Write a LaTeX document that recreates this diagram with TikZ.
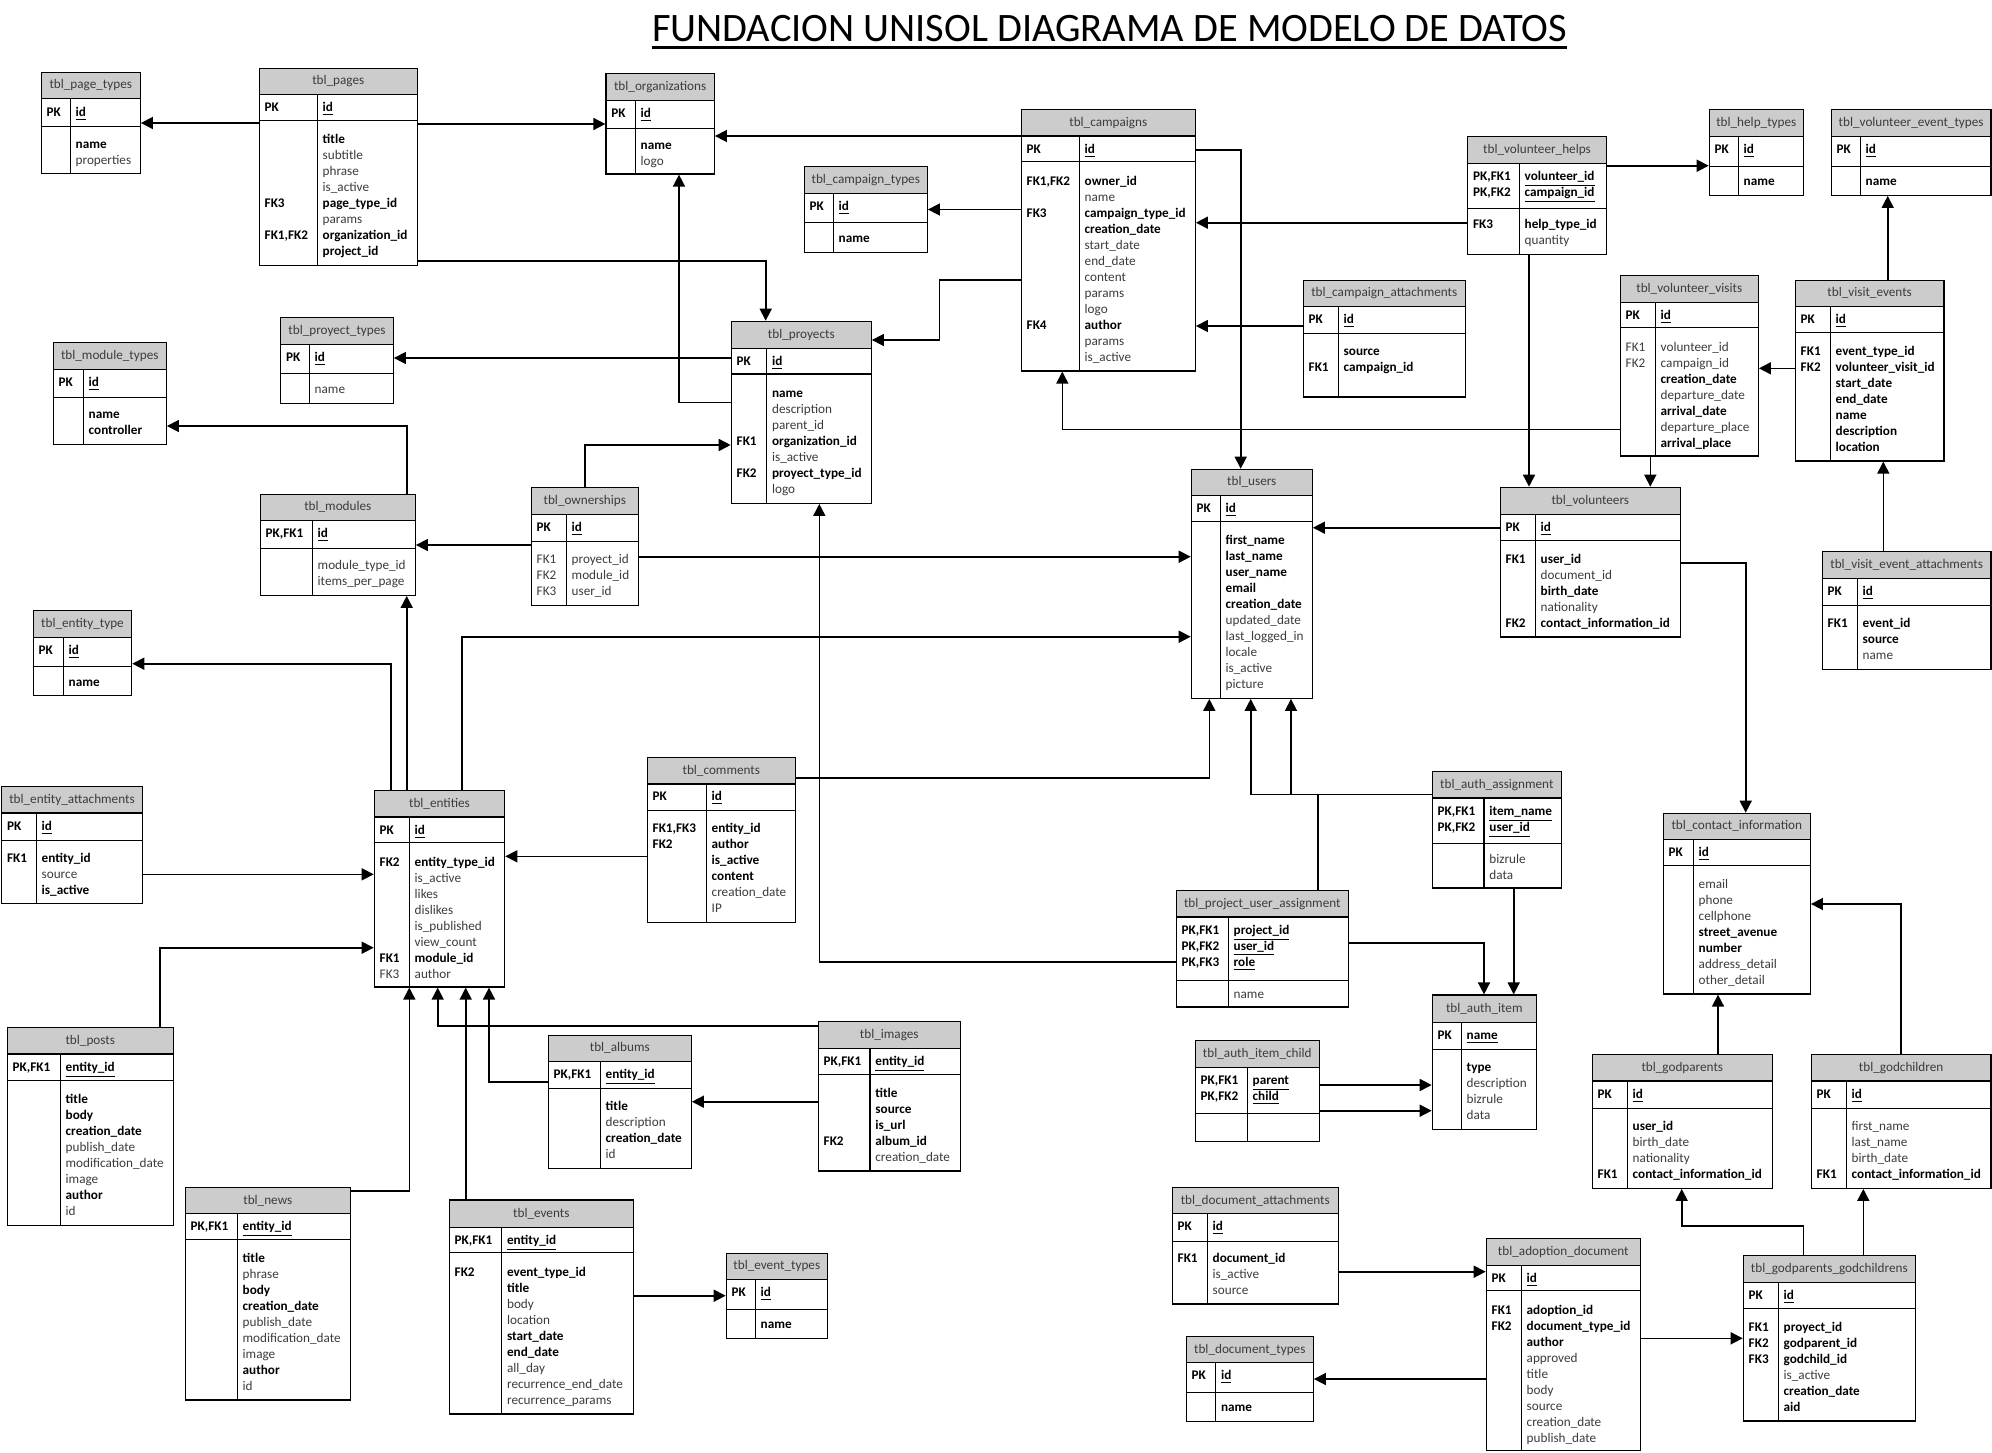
\documentclass[tikz,border=0pt]{standalone}
\usepackage{fontspec}
\setmainfont{Carlito}
\usetikzlibrary{arrows.meta,fit}
\definecolor{hdrgray}{RGB}{204,204,204}
\definecolor{txtgray}{RGB}{60,60,60}
\newcommand\cellfont{\fontsize{6.6}{8}\selectfont}
\tikzset{
 tline/.style={line width=0.6pt},
 conn/.style={line width=0.8pt,-{Triangle[length=6pt,width=6pt]}},
 cell/.style={inner sep=0pt,anchor=base west},
 ttl/.style={inner sep=0pt,anchor=base,font=\cellfont,text=txtgray},
}
% #1 name #2 L #3 T #4 R #5 B #6 header bottom #7 pk bottom #8 divider #9 title
\newcommand\tbl[9]{%
 \fill[hdrgray] (#2,#3) rectangle (#4,#6);
 \draw[tline] (#2,#6) -- (#4,#6) (#2,#7) -- (#4,#7) (#8,#6) -- (#8,#5);
 \node[fit={(#2,#3) (#4,#5)},inner sep=0pt,draw,tline] (#1) {};
 \node[ttl] at ({(#2+#4)/2},{(#3+#6)/2+3.5}) {#9};}
\newcommand\pkrows[4]{%
 \foreach \k/\f [count=\i from 0] in {#4}{%
  \node[cell,font=\cellfont\bfseries] at (#1+5,#3+4+16*\i) {\k};
  \node[cell,font=\cellfont\bfseries] at (#2+5,#3+4+16*\i) {\underline{\f}};}}
\newcommand\rows[4]{%
 \foreach \k/\f/\s [count=\i from 0] in {#4}{%
  \if b\s\def\rowfnt{\bfseries}\def\rowcol{black}\else\def\rowfnt{}\def\rowcol{txtgray}\fi
  \node[cell,text=\rowcol,font=\cellfont\rowfnt] at (#1+5,#3+4+16*\i) {\k};
  \node[cell,text=\rowcol,font=\cellfont\rowfnt] at (#2+5,#3+4+16*\i) {\f};}}
\begin{document}
\catcode`\_=12
\begin{tikzpicture}[x=0.5pt,y=-0.5pt]
\fill[white] (0,0) rectangle (1992,1452);
\useasboundingbox (0,0) rectangle (1992,1452);

\node[anchor=base west,inner sep=0pt,font=\fontsize{20.2}{24}\selectfont] (title) at (651.7,41.7) {FUNDACION UNISOL DIAGRAMA DE MODELO DE DATOS};
\draw[line width=1.2pt] (title.west |- 0,47.3) -- (title.east |- 0,47.3);

\tbl{pagetypes}{41.3}{72.3}{140.3}{173.3}{98.3}{126.3}{70.3}{tbl_page_types}
\pkrows{41.3}{70.3}{112}{PK/id}
\rows{41.3}{70.3}{144}{{}/name/b,{}/properties/n}

\tbl{pages}{259.3}{68.3}{417.3}{265.3}{94.3}{120.3}{317.3}{tbl_pages}
\pkrows{259.3}{317.3}{107.7}{PK/id}
\rows{259.3}{317.3}{139.3}{{}/title/b,{}/subtitle/n,{}/phrase/n,{}/is_active/n,FK3/page_type_id/b,{}/params/n,{FK1,FK2}/organization_id/b,{}/project_id/b}

\tbl{orgs}{606}{73.3}{714.3}{174}{100.3}{128.3}{635.3}{tbl_organizations}
\pkrows{606}{635.3}{113}{PK/id}
\rows{606}{635.3}{145}{{}/name/b,{}/logo/n}

\tbl{camptypes}{804.3}{166.3}{927.3}{252.3}{193.3}{222.3}{833.3}{tbl_campaign_types}
\pkrows{804.3}{833.3}{206}{PK/id}
\rows{804.3}{833.3}{238}{{}/name/b}

\tbl{campaigns}{1021.3}{109.3}{1195.3}{371}{136}{161.3}{1079.3}{tbl_campaigns}
\pkrows{1021.3}{1079.3}{149.7}{PK/id}
\rows{1021.3}{1079.3}{181.7}{{FK1,FK2}/owner_id/b,{}/name/n,FK3/campaign_type_id/b,{}/creation_date/b,{}/start_date/n,{}/end_date/n,{}/content/n,{}/params/n,{}/logo/n,FK4/author/b,{}/params/n,{}/is_active/n}

\tbl{volhelps}{1467.7}{136.3}{1606.3}{254.3}{163.3}{208.3}{1519.3}{tbl_volunteer_helps}
\pkrows{1467.7}{1519.3}{176.3}{{PK,FK1}/volunteer_id,{PK,FK2}/campaign_id}
\rows{1467.7}{1519.3}{224.3}{FK3/help_type_id/b,{}/quantity/n}

\tbl{helptypes}{1709.3}{109.3}{1803.3}{195.3}{136.3}{166.3}{1738.3}{tbl_help_types}
\pkrows{1709.3}{1738.3}{149.7}{PK/id}
\rows{1709.3}{1738.3}{181.7}{{}/name/b}

\tbl{veventtypes}{1831.3}{109.3}{1991}{195.3}{136.3}{166.3}{1860.3}{tbl_volunteer_event_types}
\pkrows{1831.3}{1860.3}{149.7}{PK/id}
\rows{1831.3}{1860.3}{181.7}{{}/name/b}

\tbl{campatt}{1303.3}{280.3}{1465.3}{397}{306.3}{333.3}{1338.3}{tbl_campaign_attachments}
\pkrows{1303.3}{1338.3}{319.7}{PK/id}
\rows{1303.3}{1338.3}{351.7}{{}/source/b,FK1/campaign_id/b}

\tbl{volvisits}{1620.3}{275.3}{1758.3}{456}{302.3}{327.3}{1655.3}{tbl_volunteer_visits}
\pkrows{1620.3}{1655.3}{315}{PK/id}
\rows{1620.3}{1655.3}{347}{FK1/volunteer_id/n,FK2/campaign_id/n,{}/creation_date/b,{}/departure_date/n,{}/arrival_date/b,{}/departure_place/n,{}/arrival_place/b}

\tbl{visitevents}{1795.3}{280.3}{1944}{461}{306.3}{332.3}{1830.3}{tbl_visit_events}
\pkrows{1795.3}{1830.3}{319.7}{PK/id}
\rows{1795.3}{1830.3}{351.7}{FK1/event_type_id/b,FK2/volunteer_visit_id/b,{}/start_date/b,{}/end_date/b,{}/name/b,{}/description/b,{}/location/b}

\tbl{proytypes}{280.7}{317.3}{393.3}{403.3}{344.3}{373.3}{309.3}{tbl_proyect_types}
\pkrows{280.7}{309.3}{357}{PK/id}
\rows{280.7}{309.3}{389}{{}/name/n}

\tbl{modtypes}{53.3}{342.3}{166.3}{444.3}{369.3}{397.3}{83.3}{tbl_module_types}
\pkrows{53.3}{83.3}{382}{PK/id}
\rows{53.3}{83.3}{414}{{}/name/b,{}/controller/b}

\tbl{proyects}{731.3}{321.3}{871.3}{503.3}{348.3}{374}{766.7}{tbl_proyects}
\pkrows{731.3}{766.7}{361.3}{PK/id}
\rows{731.3}{766.7}{393.3}{{}/name/b,{}/description/n,{}/parent_id/n,FK1/organization_id/b,{}/is_active/n,FK2/proyect_type_id/b,{}/logo/n}

\tbl{owners}{531.3}{487.3}{638.3}{605.3}{514.3}{541.3}{566.3}{tbl_ownerships}
\pkrows{531.3}{566.3}{527.7}{PK/id}
\rows{531.3}{566.3}{559.7}{FK1/proyect_id/n,FK2/module_id/n,FK3/user_id/n}

\tbl{users}{1191.3}{469.3}{1312.3}{698.3}{495.3}{521.3}{1220.3}{tbl_users}
\pkrows{1191.3}{1220.3}{508.7}{PK/id}
\rows{1191.3}{1220.3}{540.7}{{}/first_name/b,{}/last_name/b,{}/user_name/b,{}/email/b,{}/creation_date/b,{}/updated_date/n,{}/last_logged_in/n,{}/locale/n,{}/is_active/n,{}/picture/n}

\tbl{volunteers}{1500.3}{487.3}{1680.3}{637}{514.3}{540.3}{1535.3}{tbl_volunteers}
\pkrows{1500.3}{1535.3}{527.7}{PK/id}
\rows{1500.3}{1535.3}{559.7}{FK1/user_id/b,{}/document_id/n,{}/birth_date/b,{}/nationality/n,FK2/contact_information_id/b}

\tbl{modules}{260.3}{494.3}{415.3}{595.3}{520.3}{548.3}{312.3}{tbl_modules}
\pkrows{260.3}{312.3}{533.7}{{PK,FK1}/id}
\rows{260.3}{312.3}{565.7}{{}/module_type_id/n,{}/items_per_page/n}

\tbl{enttype}{33.3}{610.3}{131.7}{695.3}{637.3}{666.3}{63.3}{tbl_entity_type}
\pkrows{33.3}{63.3}{650}{PK/id}
\rows{33.3}{63.3}{682.3}{{}/name/b}

\tbl{veatt}{1822.3}{551.3}{1991}{669.3}{578.3}{605.3}{1857.3}{tbl_visit_event_attachments}
\pkrows{1822.3}{1857.3}{591.7}{PK/id}
\rows{1822.3}{1857.3}{623.7}{FK1/event_id/b,{}/source/b,{}/name/n}

\tbl{comments}{647.3}{757.3}{795.3}{922.3}{784}{810.3}{706.3}{tbl_comments}
\pkrows{647.3}{706.3}{796.7}{PK/id}
\rows{647.3}{706.3}{828.7}{{FK1,FK3}/entity_id/b,FK2/author/b,{}/is_active/b,{}/content/b,{}/creation_date/n,{}/IP/n}

\tbl{entities}{374.3}{790.7}{504.7}{987}{817}{842.3}{409.3}{tbl_entities}
\pkrows{374.3}{409.3}{830}{PK/id}
\rows{374.3}{409.3}{862}{FK2/entity_type_id/b,{}/is_active/n,{}/likes/n,{}/dislikes/n,{}/is_published/n,{}/view_count/n,FK1/module_id/b,FK3/author/n}

\tbl{entatt}{1.7}{786.3}{142.3}{903.3}{813}{840.3}{36.3}{tbl_entity_attachments}
\pkrows{1.7}{36.3}{826}{PK/id}
\rows{1.7}{36.3}{858}{FK1/entity_id/b,{}/source/n,{}/is_active/b}

\tbl{authassign}{1432.3}{771.3}{1561.3}{888}{798}{843.3}{1484}{tbl_auth_assignment}
\pkrows{1432.3}{1484}{811.3}{{PK,FK1}/item_name,{PK,FK2}/user_id}
\rows{1432.3}{1484}{859}{{}/bizrule/n,{}/data/n}

\tbl{contact}{1663.3}{813.3}{1810.3}{994}{839.3}{865.3}{1693.3}{tbl_contact_information}
\pkrows{1663.3}{1693.3}{852.7}{PK/id}
\rows{1663.3}{1693.3}{884.7}{{}/email/n,{}/phone/n,{}/cellphone/n,{}/street_avenue/b,{}/number/b,{}/address_detail/n,{}/other_detail/n}

\tbl{pua}{1176.3}{890.3}{1348.3}{1007}{917}{980.3}{1228.3}{tbl_project_user_assignment}
\pkrows{1176.3}{1228.3}{930}{{PK,FK1}/project_id,{PK,FK2}/user_id,{PK,FK3}/role}
\rows{1176.3}{1228.3}{994.3}{{}/name/n}

\tbl{posts}{7.3}{1027.7}{173.3}{1225.3}{1054}{1080.3}{60.3}{tbl_posts}
\pkrows{7.3}{60.3}{1067.3}{{PK,FK1}/entity_id}
\rows{7.3}{60.3}{1099.3}{{}/title/b,{}/body/b,{}/creation_date/b,{}/publish_date/n,{}/modification_date/n,{}/image/n,{}/author/b,{}/id/n}

\tbl{images}{818.3}{1021.3}{960.3}{1171}{1048.3}{1074.3}{870}{tbl_images}
\pkrows{818.3}{870}{1061.3}{{PK,FK1}/entity_id}
\rows{818.3}{870}{1093.3}{{}/title/b,{}/source/b,{}/is_url/b,FK2/album_id/b,{}/creation_date/n}

\tbl{albums}{548.3}{1035.3}{691.3}{1168.3}{1061.3}{1088.3}{600.3}{tbl_albums}
\pkrows{548.3}{600.3}{1074.7}{{PK,FK1}/entity_id}
\rows{548.3}{600.3}{1106.7}{{}/title/b,{}/description/n,{}/creation_date/b,{}/id/n}

\tbl{authchild}{1195.3}{1040.3}{1319.3}{1141.3}{1067.3}{1113.3}{1247.3}{tbl_auth_item_child}
\pkrows{1195.3}{1247.3}{1080.3}{{PK,FK1}/parent,{PK,FK2}/child}

\tbl{authitem}{1432.3}{995}{1536.3}{1129.3}{1022.3}{1049.3}{1461.3}{tbl_auth_item}
\pkrows{1432.3}{1461.3}{1035.7}{PK/name}
\rows{1432.3}{1461.3}{1067.7}{{}/type/b,{}/description/n,{}/bizrule/n,{}/data/n}

\tbl{godparents}{1592.3}{1054.3}{1772.3}{1188.3}{1081}{1108.3}{1627.3}{tbl_godparents}
\pkrows{1592.3}{1627.3}{1094.7}{PK/id}
\rows{1592.3}{1627.3}{1126.7}{{}/user_id/b,{}/birth_date/n,{}/nationality/n,FK1/contact_information_id/b}

\tbl{godchildren}{1811.3}{1054.3}{1991}{1188.3}{1081}{1108.3}{1846.3}{tbl_godchildren}
\pkrows{1811.3}{1846.3}{1094.7}{PK/id}
\rows{1811.3}{1846.3}{1126.7}{{}/first_name/n,{}/last_name/n,{}/birth_date/n,FK1/contact_information_id/b}

\tbl{news}{185.3}{1187.7}{350.3}{1400}{1213.3}{1239.3}{237.3}{tbl_news}
\pkrows{185.3}{237.3}{1226.7}{{PK,FK1}/entity_id}
\rows{185.3}{237.3}{1258.7}{{}/title/b,{}/phrase/n,{}/body/b,{}/creation_date/b,{}/publish_date/n,{}/modification_date/n,{}/image/n,{}/author/b,{}/id/n}

\tbl{docatt}{1172.3}{1187.7}{1338.3}{1304}{1213.3}{1241.3}{1207.3}{tbl_document_attachments}
\pkrows{1172.3}{1207.3}{1226.7}{PK/id}
\rows{1172.3}{1207.3}{1258.7}{FK1/document_id/b,{}/is_active/n,{}/source/n}

\tbl{events}{449.3}{1200}{633.3}{1414}{1227.3}{1252.3}{501.7}{tbl_events}
\pkrows{449.3}{501.7}{1240.3}{{PK,FK1}/entity_id}
\rows{449.3}{501.7}{1272.3}{FK2/event_type_id/b,{}/title/b,{}/body/n,{}/location/n,{}/start_date/b,{}/end_date/b,{}/all_day/n,{}/recurrence_end_date/n,{}/recurrence_params/n}

\tbl{adoption}{1486.3}{1238.7}{1640.3}{1450.5}{1265.3}{1290.3}{1521.3}{tbl_adoption_document}
\pkrows{1486.3}{1521.3}{1278}{PK/id}
\rows{1486.3}{1521.3}{1310}{FK1/adoption_id/b,FK2/document_type_id/b,{}/author/b,{}/approved/n,{}/title/n,{}/body/n,{}/source/n,{}/creation_date/n,{}/publish_date/n}

\tbl{eventtypes}{726.3}{1253.3}{827.3}{1338.3}{1279.3}{1309.3}{755.3}{tbl_event_types}
\pkrows{726.3}{755.3}{1292.7}{PK/id}
\rows{726.3}{755.3}{1324.7}{{}/name/b}

\tbl{gpgc}{1743.3}{1255.3}{1915.3}{1421}{1282.3}{1308.3}{1778.3}{tbl_godparents_godchildrens}
\pkrows{1743.3}{1778.3}{1295.3}{PK/id}
\rows{1743.3}{1778.3}{1327}{FK1/proyect_id/b,FK2/godparent_id/b,FK3/godchild_id/b,{}/is_active/n,{}/creation_date/b,{}/aid/b}

\tbl{doctypes}{1186.3}{1336.7}{1313.3}{1421.3}{1362.3}{1392.3}{1215.7}{tbl_document_types}
\pkrows{1186.3}{1215.7}{1375.7}{PK/id}
\rows{1186.3}{1215.7}{1407.7}{{}/name/b}

% connectors
\draw[conn] (pages.west |- 0,123) -- (pagetypes.east |- 0,123);
\draw[conn] (pages.east |- 0,124) -- (orgs.west |- 0,124);
\draw[conn] (pages.east |- 0,261) -| (proyects.north -| 765.7,0);
\draw[conn] (campaigns.west |- 0,136) -- (orgs.east |- 0,136);
\draw[conn] (campaigns.west |- 0,209.5) -- (camptypes.east |- 0,209.5);
\draw[conn] (campaigns.west |- 0,280) -| (939.3,340) -- (proyects.east |- 0,340);
\draw[conn] (proyects.west |- 0,402.3) -| (orgs.south -| 679,0);
\draw[conn] (proyects.west |- 0,358) -- (proytypes.east |- 0,358);
\draw[conn] (owners.north -| 585,0) |- (proyects.west |- 0,445);
\draw[conn] (campaigns.east |- 0,150) -| (users.north -| 1240.7,0);
\draw[conn] (volhelps.west |- 0,222.7) -- (campaigns.east |- 0,222.7);
\draw[conn] (campatt.west |- 0,326) -- (campaigns.east |- 0,326);
\draw[conn] (volvisits.west |- 0,429.3) -| (campaigns.south -| 1062.3,0);
\draw[conn] (volhelps.east |- 0,165.7) -- (helptypes.west |- 0,165.7);
\draw[conn] (volhelps.south -| 1529,0) -- (volunteers.north -| 1529,0);
\draw[conn] (visitevents.north -| 1887.7,0) -- (veventtypes.south -| 1887.7,0);
\draw[conn] (visitevents.west |- 0,368.3) -- (volvisits.east |- 0,368.3);
\draw[conn] (volvisits.south -| 1650.3,0) -- (volunteers.north -| 1650.3,0);
\draw[conn] (veatt.north -| 1883.3,0) -- (visitevents.south -| 1883.3,0);
\draw[conn] (volunteers.west |- 0,527.7) -- (users.east |- 0,527.7);
\draw[conn] (volunteers.east |- 0,562.7) -| (contact.north -| 1745.7,0);
\draw[conn] (godchildren.north -| 1900.7,0) |- (contact.east |- 0,904);
\draw[conn] (godparents.north -| 1718,0) -- (contact.south -| 1718,0);
\draw[conn] (gpgc.north -| 1803.3,0) |- (1681.7,1225.7) -- (godparents.south -| 1681.7,0);
\draw[conn] (gpgc.north -| 1863.3,0) -- (godchildren.south -| 1863.3,0);
\draw[conn] (adoption.east |- 0,1338.3) -- (gpgc.west |- 0,1338.3);
\draw[conn] (docatt.east |- 0,1271.7) -- (adoption.west |- 0,1271.7);
\draw[conn] (adoption.west |- 0,1379) -- (doctypes.east |- 0,1379);
\draw[conn] (authchild.east |- 0,1085) -- (authitem.west |- 0,1085);
\draw[conn] (authchild.east |- 0,1110.7) -- (authitem.west |- 0,1110.7);
\draw[conn] (authassign.south -| 1513.7,0) -- (authitem.north -| 1513.7,0);
\draw[conn] (pua.east |- 0,943) -| (authitem.north -| 1484,0);
\draw[conn] (pua.west |- 0,962) -| (proyects.south -| 819.3,0);
\draw[conn] (pua.north -| 1317.7,0) |- (1250.7,794.3) -- (users.south -| 1250.7,0);
\draw[conn] (authassign.west |- 0,794.3) -| (users.south -| 1291,0);
\draw[conn] (comments.east |- 0,777.7) -| (users.south -| 1209.3,0);
\draw[conn] (comments.west |- 0,856.3) -- (entities.east |- 0,856.3);
\draw[conn] (owners.east |- 0,556.7) -- (users.west |- 0,556.7);
\draw[conn] (owners.west |- 0,545) -- (modules.east |- 0,545);
\draw[conn] (entities.north -| 461.7,0) |- (users.west |- 0,636.7);
\draw[conn] (entities.north -| 406.7,0) -- (modules.south -| 406.7,0);
\draw[conn] (modules.north -| 406.7,0) |- (modtypes.east |- 0,426);
\draw[conn] (entities.north -| 390.7,0) |- (enttype.east |- 0,663.7);
\draw[conn] (entatt.east |- 0,874.3) -- (entities.west |- 0,874.3);
\draw[conn] (posts.north -| 160,0) |- (entities.west |- 0,947.7);
\draw[conn] (news.east |- 0,1191) -| (entities.south -| 409.3,0);
\draw[conn] (images.west |- 0,1025.7) -| (entities.south -| 437.7,0);
\draw[conn] (events.north -| 465.7,0) -- (entities.south -| 465.7,0);
\draw[conn] (albums.west |- 0,1081.7) -| (entities.south -| 489,0);
\draw[conn] (images.west |- 0,1101.7) -- (albums.east |- 0,1101.7);
\draw[conn] (events.east |- 0,1295.7) -- (eventtypes.west |- 0,1295.7);
\end{tikzpicture}
\end{document}
